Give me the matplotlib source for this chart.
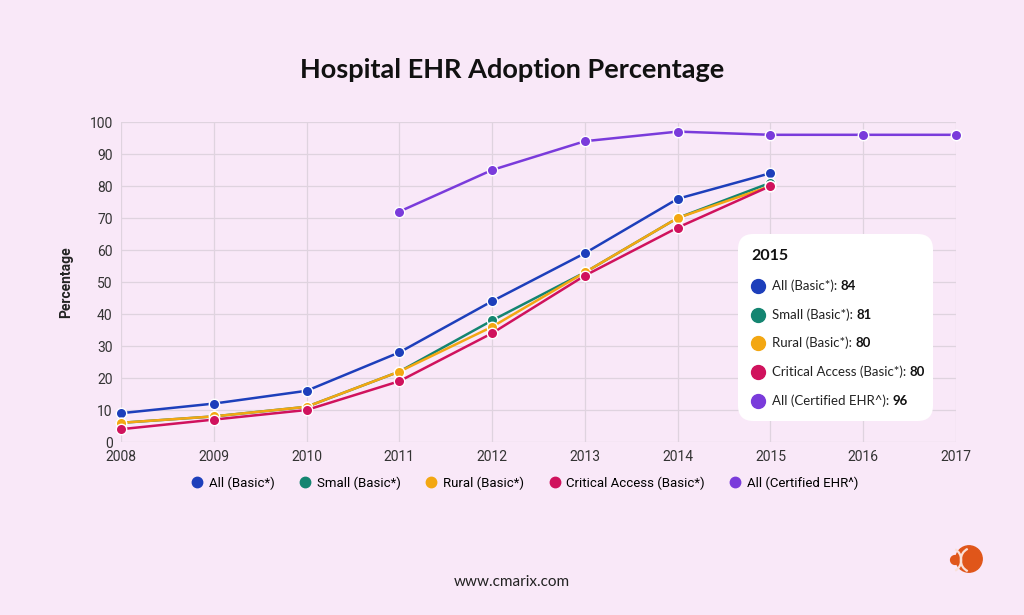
import matplotlib
matplotlib.use("Agg")
import matplotlib.pyplot as plt
import numpy as np
from matplotlib.patches import FancyBboxPatch, Circle, Arc
from matplotlib.lines import Line2D

years = [2008, 2009, 2010, 2011, 2012, 2013, 2014, 2015, 2016, 2017]
all_basic = [9, 12, 16, 28, 44, 59, 76, 84, None, None]
small_basic = [6, 8, 11, 22, 38, 53, 70, 81, None, None]
rural_basic = [6, 8, 11, 22, 36, 53, 70, 80, None, None]
critical_basic = [4, 7, 10, 19, 34, 52, 67, 80, None, None]
certified = [None, None, None, 72, 85, 94, 97, 96, 96, 96]

series_names = ["All (Basic*)", "Small (Basic*)", "Rural (Basic*)",
                "Critical Access (Basic*)", "All (Certified EHR^)"]
series_values = [all_basic, small_basic, rural_basic, critical_basic, certified]
colors = ["#1D3FBB", "#148571", "#F3A712", "#D0125D", "#7A3BDB"]
tooltip_year = 2015

BG = "#F9E8F8"
W, H = 1024, 615
def fx(px): return px / W
def fy(py): return 1 - py / H

fig = plt.figure(figsize=(10.24, 6.15), dpi=100, facecolor=BG)
ax = fig.add_axes([fx(121), fy(442), fx(956) - fx(121), fy(122) - fy(442)])
ax.set_facecolor(BG)

for name, vals, c in zip(series_names, series_values, colors):
    xs = [y for y, v in zip(years, vals) if v is not None]
    ys = [v for v in vals if v is not None]
    ax.plot(xs, ys, color=c, lw=1.8, marker="o", ms=7.5,
            markeredgecolor="white", markeredgewidth=1.0, zorder=3, label=name,
            clip_on=False)

ax.set_xlim(2008, 2017)
ax.set_ylim(0, 100)
ax.set_xticks(years)
ax.set_yticks(range(0, 101, 10))
ax.grid(True, color="#DFD3DF", lw=0.9, zorder=0)
for s in ax.spines.values():
    s.set_visible(False)
ax.tick_params(length=0, labelsize=10, labelcolor="#333333", pad=6)
for lab in ax.get_xticklabels() + ax.get_yticklabels():
    lab.set_fontfamily("Roboto")
ax.set_ylabel("Percentage", fontsize=10, fontweight="bold", family="Roboto",
              color="#222222", labelpad=12)

fig.text(0.5, fy(70), "Hospital EHR Adoption Percentage", ha="center", va="center",
         fontsize=19.5, fontweight="bold", family="Lato", color="#111111")

handles = [Line2D([], [], ls="none", marker="o", ms=7.5, color=c) for c in colors]
fig.legend(handles, series_names, loc="center", bbox_to_anchor=(fx(524), fy(483)),
           ncol=5, frameon=False, handletextpad=0.3, handlelength=1.2,
           columnspacing=1.7, prop={"family": "Roboto", "size": 9.5})

# tooltip box
box = FancyBboxPatch((fx(738), fy(421)), fx(933) - fx(738), fy(234) - fy(421),
                     boxstyle="round,pad=0,rounding_size=0.015",
                     transform=fig.transFigure, facecolor="white", edgecolor="none",
                     zorder=5, mutation_aspect=W / H)
fig.add_artist(box)
fig.text(fx(751), fy(256), str(tooltip_year), fontsize=11.5, fontweight="bold",
         family="Lato", color="#111111", va="center", zorder=6)
idx = years.index(tooltip_year)
row_y = [286, 315, 343, 372, 401]
for py, name, vals, c in zip(row_y, series_names, series_values, colors):
    fig.add_artist(Line2D([fx(758)], [fy(py)], ls="none", marker="o", ms=10,
                          color=c, transform=fig.transFigure, zorder=6))
    t = fig.text(fx(772), fy(py), name + ": ", fontsize=9.5, family="Lato",
                 color="#222222", va="center", zorder=6)
    fig.canvas.draw()
    bb = t.get_window_extent()
    fig.text(bb.x1 / W, fy(py), str(vals[idx]), fontsize=9.5, family="Lato",
             fontweight="bold", color="#111111", va="center", zorder=6)

fig.text(0.5, fy(582), "www.cmarix.com", ha="center", va="center", fontsize=11,
         family="Lato", color="#222222")

# logo
lax = fig.add_axes([fx(947), fy(580), fx(40), fy(540) - fy(580)])
lax.set_xlim(0, 1); lax.set_ylim(0, 1); lax.axis("off")
lax.add_patch(Circle((0.55, 0.525), 0.33, color="#E0561A"))
lax.add_patch(Circle((0.2, 0.5), 0.11, color="#E0561A"))
lax.add_patch(Arc((0.62, 0.5), 0.55, 0.6, theta1=110, theta2=250, color="#F9E0D8", lw=1.6))
lax.add_patch(Arc((0.08, 0.5), 0.55, 0.6, theta1=-65, theta2=65, color="#F9E0D8", lw=1.6))

fig.savefig("out.png", dpi=100, facecolor=BG)
